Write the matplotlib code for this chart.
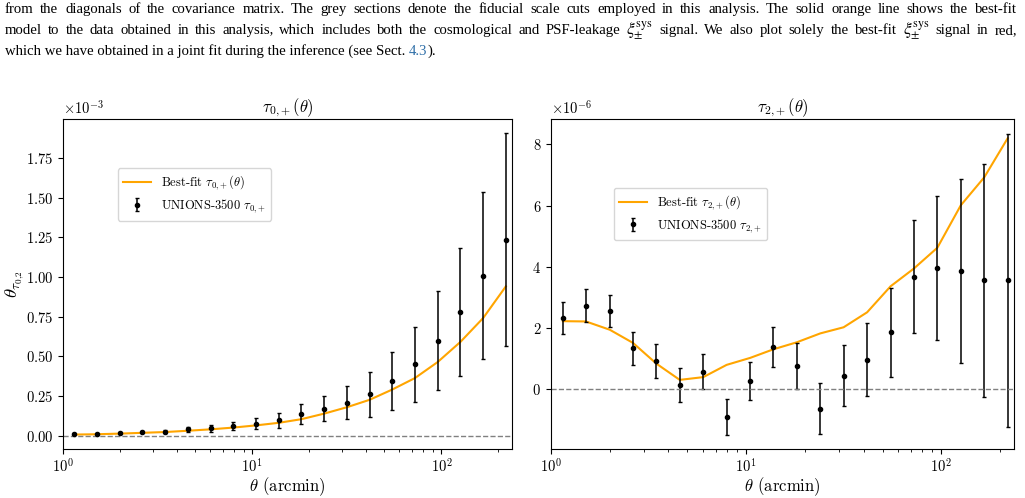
import numpy as np
import matplotlib
matplotlib.use("Agg")
import matplotlib.pyplot as plt

plt.rcParams['font.family'] = 'serif'
plt.rcParams['font.serif'] = ['cmr10', 'DejaVu Serif']
plt.rcParams['mathtext.fontset'] = 'cm'
plt.rcParams['axes.formatter.use_mathtext'] = True
plt.rcParams['axes.unicode_minus'] = True

# 角度分箱中心 (arcmin)
theta = [1.15, 1.51, 2.00, 2.63, 3.47, 4.57, 6.03, 7.94, 10.5, 13.8,
         18.2, 24.0, 31.6, 41.7, 55.0, 72.4, 95.5, 126.0, 166.0, 219.0]

# tau_{0,+}  (单位 1e-3)
tau0_val = [0.009, 0.011, 0.015, 0.023, 0.024, 0.038, 0.045, 0.058, 0.074, 0.097,
            0.135, 0.170, 0.207, 0.259, 0.343, 0.449, 0.598, 0.777, 1.007, 1.235]
tau0_err = [0.004, 0.005, 0.006, 0.008, 0.010, 0.015, 0.020, 0.025, 0.035, 0.048,
            0.062, 0.080, 0.106, 0.140, 0.184, 0.238, 0.310, 0.403, 0.525, 0.673]
tau0_fit = [0.006, 0.008, 0.012, 0.017, 0.022, 0.030, 0.039, 0.050, 0.064, 0.080,
            0.103, 0.138, 0.178, 0.225, 0.290, 0.362, 0.463, 0.590, 0.740, 0.940]

# tau_{2,+}  (单位 1e-6)
tau2_val = [2.33, 2.73, 2.56, 1.33, 0.91, 0.13, 0.56, -0.91, 0.27, 1.38,
            0.74, -0.64, 0.44, 0.96, 1.85, 3.67, 3.96, 3.86, 3.55, 3.55]
tau2_err = [0.53, 0.53, 0.53, 0.54, 0.55, 0.56, 0.57, 0.58, 0.62, 0.66,
            0.75, 0.84, 0.99, 1.20, 1.47, 1.85, 2.35, 3.00, 3.80, 4.80]
tau2_fit = [2.22, 2.21, 1.94, 1.51, 0.83, 0.30, 0.39, 0.79, 1.02, 1.30,
            1.53, 1.82, 2.02, 2.51, 3.36, 3.94, 4.62, 6.01, 6.92, 8.20]

# 图注文字（数学片段内不含空格，便于按词两端对齐）
caption = [
    "from the diagonals of the covariance matrix. The grey sections denote the fiducial scale cuts "
    "employed in this analysis. The solid orange line shows the best-fit",
    "model to the data obtained in this analysis, which includes both the cosmological and PSF-leakage "
    r"$\xi^{\mathrm{sys}}_{\pm}$ signal. We also plot solely the best-fit $\xi^{\mathrm{sys}}_{\pm}$ signal in red,",
]
caption_last = "which we have obtained in a joint fit during the inference (see Sect."
caption_ref = "4.3"

fig = plt.figure(figsize=(10.25, 4.98), dpi=100)
W, H = 1025, 498
renderer = fig.canvas.get_renderer()
cap_kw = dict(fontsize=10.6, family='Liberation Serif', math_fontfamily='stix', va='baseline')


def justify_line(text, x0, x1, y_px):
    """按词排版，两端对齐"""
    words = text.split(' ')
    objs = []
    for w in words:
        kw = dict(cap_kw)
        if w.startswith('$'):
            kw['fontsize'] = 12.5
        objs.append(fig.text(0, 1 - y_px / H, w, **kw))
    widths = [o.get_window_extent(renderer).width for o in objs]
    gap = (x1 - x0 - sum(widths)) / (len(objs) - 1)
    x = x0
    for o, w in zip(objs, widths):
        o.set_x(x / W)
        x += w + gap


justify_line(caption[0], 5, 1017, 13)
justify_line(caption[1], 5, 1017, 34)
t3 = fig.text(5 / W, 1 - 55 / H, caption_last, **cap_kw)
w3 = t3.get_window_extent(renderer).width
space = 10.6 * 100 / 72 * 0.25
t4 = fig.text((5 + w3 + space) / W, 1 - 55 / H, caption_ref, color='#2f6fa8', **cap_kw)
w4 = t4.get_window_extent(renderer).width
fig.text((5 + w3 + space + w4) / W, 1 - 55 / H, ").", **cap_kw)

ax1 = fig.add_axes([63 / W, 49 / H, 449 / W, 330 / H])
ax2 = fig.add_axes([551 / W, 49 / H, 463 / W, 330 / H])

panels = [
    (ax1, tau0_val, tau0_err, tau0_fit, 1e-3, '0', (-0.085e-3, 1.995e-3), (0.108, 0.87)),
    (ax2, tau2_val, tau2_err, tau2_fit, 1e-6, '2', (-1.96e-6, 8.83e-6), (0.122, 0.81)),
]

for ax, val, err, fit, unit, k, ylim, leg_pos in panels:
    v = np.array(val) * unit
    e = np.array(err) * unit
    f = np.array(fit) * unit
    ax.plot(theta, f, color='orange', lw=1.5, label=r'Best-fit $\tau_{%s{,}+}(\theta)$' % k)
    ax.errorbar(theta, v, yerr=e, fmt='o', color='black', ms=3, elinewidth=1.1,
                capsize=1.5, capthick=1, label=r'UNIONS-3500 $\tau_{%s{,}+}$' % k)
    ax.axhline(0, color='grey', ls='--', lw=1)
    ax.set_xscale('log')
    ax.set_xlim(1, 236)
    ax.set_ylim(*ylim)
    ax.ticklabel_format(axis='y', style='sci', scilimits=(0, 0))
    ax.set_title(r'$\tau_{%s{,}+}(\theta)$' % k, fontsize=12, pad=3)
    ax.set_xlabel(r'$\theta$ (arcmin)', fontsize=12, labelpad=0)
    ax.tick_params(labelsize=10.5)
    ax.tick_params(axis='x', pad=2.5)
    ax.yaxis.get_offset_text().set_fontsize(10.5)
    ax.legend(loc='upper left', bbox_to_anchor=leg_pos, fontsize=9, borderpad=0.45,
              labelspacing=0.4, handlelength=2.2)

ax1.set_ylabel(r'$\theta_{\tau_{0{,}2}}$', fontsize=13.5, labelpad=0)

fig.savefig('out.png', dpi=100)
